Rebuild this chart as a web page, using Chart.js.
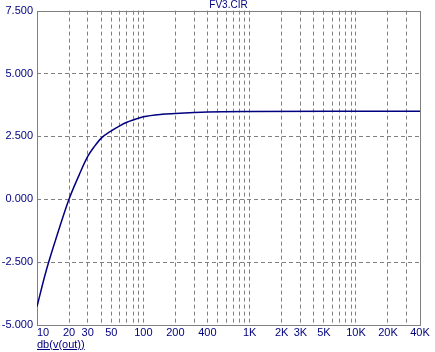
<!DOCTYPE html>
<html>
<head>
<meta charset="utf-8">
<script src="https://cdn.jsdelivr.net/npm/chart.js@4/dist/chart.umd.min.js"></script>
<style>
  html, body { margin: 0; padding: 0; background: #fff; }
  #wrap { position: relative; width: 435px; height: 352px; }
  #xname {
    position: absolute; left: 37px; top: 338px;
    font: 11px 'Liberation Sans', Arial, sans-serif;
    color: #000080; text-decoration: underline;
  }
</style>
</head>
<body>
<div id="wrap">
  <canvas id="plot" width="435" height="352"></canvas>
  <div id="xname">db(v(out))</div>
</div>
<script>
// ===== FV3.CIR - db(v(out)) vs frequency =====

const freqs = [10, 12, 15, 20, 25, 30, 35, 40, 50, 60, 70, 80, 100, 150, 200, 300, 400, 1000, 10000, 40000];
const dbOut = [-4.27, -2.95, -1.6, 0.0, 0.98, 1.7, 2.12, 2.42, 2.72, 2.92, 3.06, 3.15, 3.28, 3.38, 3.41, 3.45, 3.47, 3.49, 3.5, 3.5];

// vertical grid lines (log decades) and the labelled ones
const xGrid = [10, 20, 30, 40, 50, 60, 70, 80, 90,
  100, 200, 300, 400, 500, 600, 700, 800, 900,
  1000, 2000, 3000, 4000, 5000, 6000, 7000, 8000, 9000,
  10000, 20000, 30000, 40000];
const xTickVals = [10, 20, 30, 50, 100, 200, 400, 1000, 2000, 3000, 5000, 10000, 20000, 40000];
const xTickText = ['10', '20', '30', '50', '100', '200', '400', '1K', '2K', '3K', '5K', '10K', '20K', '40K'];
const yTicks = [-5, -2.5, 0, 2.5, 5, 7.5];

const NAVY = '#000080';
const GRIDC = '#808080';
const FONT = "'Liberation Sans', Arial, sans-serif";

// frame, title and x labels drawn on top of the library's scales
const extras = {
  id: 'extras',
  beforeDatasetsDraw(chart) {
    const { ctx, chartArea: a } = chart;
    ctx.save();
    ctx.strokeStyle = GRIDC;
    ctx.lineWidth = 1;
    ctx.strokeRect(Math.round(a.left) + 0.5, Math.round(a.top) + 0.5,
      Math.round(a.right - a.left), Math.round(a.bottom - a.top));
    ctx.restore();
  },
  afterDraw(chart) {
    const { ctx, chartArea: a } = chart;
    const xs = chart.scales.x;
    ctx.save();
    ctx.fillStyle = NAVY;
    ctx.font = '10px ' + FONT;
    ctx.textAlign = 'center';
    ctx.textBaseline = 'middle';
    ctx.fillText('FV3.CIR', (a.left + a.right) / 2, 5);

    ctx.font = '11px ' + FONT;
    xTickVals.forEach((v, i) => {
      const px = xs.getPixelForValue(v);
      ctx.textAlign = i === 0 ? 'left' : 'center';
      ctx.fillText(xTickText[i], px, a.bottom + 8);
    });
    ctx.restore();
  }
};

new Chart(document.getElementById('plot'), {
  type: 'line',
  data: {
    datasets: [{
      label: 'db(v(out))',
      data: freqs.map((f, i) => ({ x: f, y: dbOut[i] })),
      borderColor: NAVY,
      borderWidth: 1.5,
      pointRadius: 0,
      cubicInterpolationMode: 'monotone',
      fill: false
    }]
  },
  options: {
    responsive: false,
    animation: false,
    layout: { padding: { top: 10, right: 15, left: 0, bottom: 0 } },
    plugins: { legend: { display: false }, tooltip: { enabled: false } },
    scales: {
      x: {
        type: 'logarithmic',
        min: 10,
        max: 40000,
        afterBuildTicks: s => { s.ticks = xGrid.map(v => ({ value: v })); },
        afterFit: s => { s.height = 27; },
        ticks: { display: false },
        grid: {
          drawTicks: false,
          color: c => (c.tick && (c.tick.value === 10 || c.tick.value === 40000)) ? 'transparent' : GRIDC
        },
        border: { display: false, dash: [4, 3] }
      },
      y: {
        min: -5,
        max: 7.5,
        afterBuildTicks: s => { s.ticks = yTicks.map(v => ({ value: v })); },
        afterFit: s => { s.width = 37; },
        ticks: {
          color: NAVY,
          font: { family: FONT, size: 11 },
          padding: 4,
          callback: v => Number(v).toFixed(3)
        },
        grid: {
          drawTicks: false,
          color: c => (c.tick && (c.tick.value === -5 || c.tick.value === 7.5)) ? 'transparent' : GRIDC
        },
        border: { display: false, dash: [4, 3] }
      }
    }
  },
  plugins: [extras]
});
</script>
</body>
</html>
